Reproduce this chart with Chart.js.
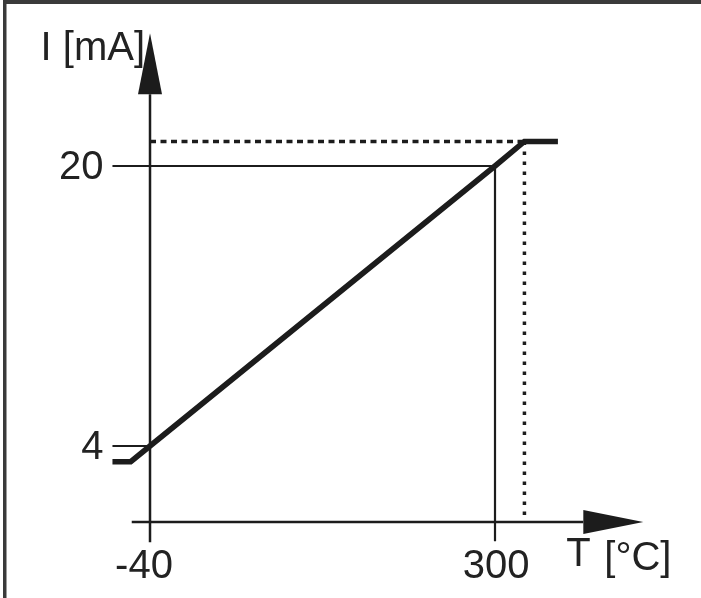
<!DOCTYPE html>
<html>
<head>
<meta charset="utf-8">
<script src="https://cdn.jsdelivr.net/npm/chart.js@4.4.1/dist/chart.umd.min.js"></script>
<style>
  html, body { margin: 0; padding: 0; background: #fff; }
  #wrap { width: 701px; height: 598px; }
</style>
</head>
<body>
<div id="wrap"><canvas id="chart" width="701" height="598"></canvas></div>
<script>
// transfer curve: temperature T [°C] -> current I [mA]
const curveT = [-77, -59, -40, 300, 329, 362];
const curveI = [3.1, 3.1, 4, 20, 21.4, 21.4];

// marked ticks
const tempTicks = [-40, 300];
const currentTicks = [4, 20];

// limit (dotted) values
const limitT = 329;
const limitI = 21.4;

// axis extents
const axisT = [-58, 387];     // x axis line, arrow after it
const axisI = [-1.5, 24.1];   // y axis line, arrow above it
const axisCross = -0.34;      // current value where the T axis sits
const tickStart = -77;        // left end of the current ticks
const tickBottom = -1.45;     // lower end of the 300 tick

// visible window of the scales
const X_MIN = -187.83, X_MAX = 503.01;
const Y_MIN = -4.686, Y_MAX = 29.486;

const INK = '#1c1c1c';

function pts(xs, ys) {
    return xs.map(function (x, i) { return { x: x, y: ys[i] }; });
}

function seg(data, width, dash) {
    return {
        data: data,
        borderColor: INK,
        borderWidth: width,
        borderDash: dash || [],
        showLine: true,
        pointRadius: 0,
        fill: false,
        tension: 0,
        borderCapStyle: 'butt',
        borderJoinStyle: 'miter',
    };
}

const datasets = [
    // axes
    seg(pts([tempTicks[0], tempTicks[0]], axisI), 2.5),
    seg(pts(axisT, [axisCross, axisCross]), 2.5),
    // 4 tick
    seg(pts([tickStart, tempTicks[0]], [currentTicks[0], currentTicks[0]]), 2.2),
    // 20 line + 300 line
    seg(pts([tickStart, tempTicks[1], tempTicks[1]], [currentTicks[1], currentTicks[1], tickBottom]), 2.2),
    // dashed / dotted limits
    seg(pts([tempTicks[0], limitT], [limitI, limitI]), 3.5, [6, 4.5]),
    seg(pts([limitT, limitT], [limitI, 0.06]), 3.5, [3.5, 6.5]),
    // the curve
    seg(pts(curveT, curveI), 5.5),
];

const decorations = {
    id: 'decorations',
    beforeDraw: function (chart) {
        const c = chart.ctx;
        c.save();
        c.fillStyle = '#fff';
        c.fillRect(0, 0, chart.width, chart.height);
        // frame (top and left edge of the original box)
        c.fillStyle = '#3a3a3a';
        c.fillRect(3, 0, chart.width - 3, 4);
        c.fillRect(3, 0, 3.5, chart.height);
        c.restore();
    },
    afterDatasetsDraw: function (chart) {
        const c = chart.ctx;
        const xs = chart.scales.x, ys = chart.scales.y;
        const ax = xs.getPixelForValue(tempTicks[0]);
        const ay = ys.getPixelForValue(axisCross);
        c.save();
        c.fillStyle = INK;

        // arrow on the I axis
        const yTop = ys.getPixelForValue(axisI[1]);
        c.beginPath();
        c.moveTo(ax, yTop - 61);
        c.lineTo(ax - 12, yTop);
        c.lineTo(ax + 12, yTop);
        c.closePath();
        c.fill();

        // arrow on the T axis
        const xEnd = xs.getPixelForValue(axisT[1]);
        c.beginPath();
        c.moveTo(xEnd + 60, ay);
        c.lineTo(xEnd, ay - 12);
        c.lineTo(xEnd, ay + 12);
        c.closePath();
        c.fill();

        // labels
        c.fillStyle = '#222';
        c.font = '40px "Liberation Sans", Arial, sans-serif';
        c.textBaseline = 'alphabetic';

        c.textAlign = 'right';
        currentTicks.forEach(function (v) {
            c.fillText(String(v), xs.getPixelForValue(tickStart) - 9, ys.getPixelForValue(v) + 13);
        });
        c.fillText('I [mA]', ax - 5, 60);

        c.textAlign = 'center';
        c.fillText('-40', xs.getPixelForValue(tempTicks[0]) - 6, 578);
        c.fillText('300', xs.getPixelForValue(tempTicks[1]) + 1, 578);

        c.textAlign = 'left';
        c.fillText('T', xEnd - 17, 566);
        c.fillText('[°C]', xEnd + 21, 570);
        c.restore();
    }
};

new Chart(document.getElementById('chart'), {
    type: 'scatter',
    data: { datasets: datasets },
    options: {
        responsive: false,
        animation: false,
        devicePixelRatio: 1,
        layout: { padding: 0 },
        plugins: {
            legend: { display: false },
            tooltip: { enabled: false },
        },
        scales: {
            x: { type: 'linear', min: X_MIN, max: X_MAX, display: false },
            y: { type: 'linear', min: Y_MIN, max: Y_MAX, display: false },
        },
    },
    plugins: [decorations],
});
</script>
</body>
</html>
